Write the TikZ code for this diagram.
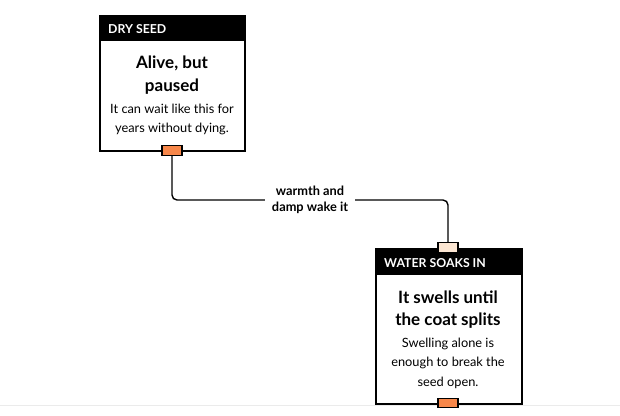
\documentclass[tikz,border=0pt]{standalone}
\usepackage{fontspec}
\setmainfont{Lato}
\definecolor{portorange}{HTML}{F7874A}
\definecolor{portpeach}{HTML}{FCE6D2}
\begin{document}
\begin{tikzpicture}[x=1pt,y=-1pt,
  card/.style={draw=black,line width=1.8pt,fill=white,anchor=north west,inner sep=0pt},
  head/.style={fill=black,anchor=north west,inner sep=0pt},
  headtxt/.style={text=white,font=\bfseries\fontsize{12.3}{14}\selectfont,anchor=west,inner sep=0pt},
  titletxt/.style={font=\bfseries\fontsize{17}{22.5}\selectfont,align=center,inner sep=0pt},
  bodytxt/.style={font=\fontsize{12.8}{19.5}\selectfont,align=center,inner sep=0pt},
  port/.style={draw=black,line width=1.2pt,minimum width=20pt,minimum height=9.5pt,inner sep=0pt},
  link/.style={draw=black,line width=1.4pt,rounded corners=5pt},
  lbl/.style={fill=white,font=\bfseries\fontsize{12.8}{15.5}\selectfont,align=center,inner xsep=7pt,inner ysep=1pt}]
\useasboundingbox (0,0) rectangle (620,415);
\fill[white] (0,0) rectangle (620,415);
\draw[draw=black!8,line width=0.8pt] (0,405) -- (620,405);

% card 1
\node[card,minimum width=145pt,minimum height=135pt] (c1) at (99,15) {};
\node[head,minimum width=145pt,minimum height=26pt] (h1) at (99,15) {};
\node[headtxt] (h1t) at (108,29) {DRY SEED};
\node[titletxt] (t1) at (172,75) {Alive, but\\paused};
\node[bodytxt] (b1) at (172,119.5) {It can wait like this for\\years without dying.};
\node[port,fill=portorange] (p1) at (172,150.5) {};

% card 2
\node[card,minimum width=146pt,minimum height=155pt] (c2) at (375,248) {};
\node[head,minimum width=146pt,minimum height=27pt] (h2) at (375,248) {};
\node[headtxt] (h2t) at (384,263) {WATER SOAKS IN};
\node[titletxt] (t2) at (448,309.5) {It swells until\\the coat splits};
\node[bodytxt] (b2) at (448,363) {Swelling alone is\\enough to break the\\seed open.};
\node[port,fill=portpeach] (p2) at (448,247.5) {};
\node[port,fill=portorange] (p3) at (448,403) {};

% connector
\coordinate (mid) at (310,200);
\draw[link] (p1.south) |- (mid) -| (p2.north);
\node[lbl] (l1) at (310,200) {warmth and\\damp wake it};
\end{tikzpicture}
\end{document}
